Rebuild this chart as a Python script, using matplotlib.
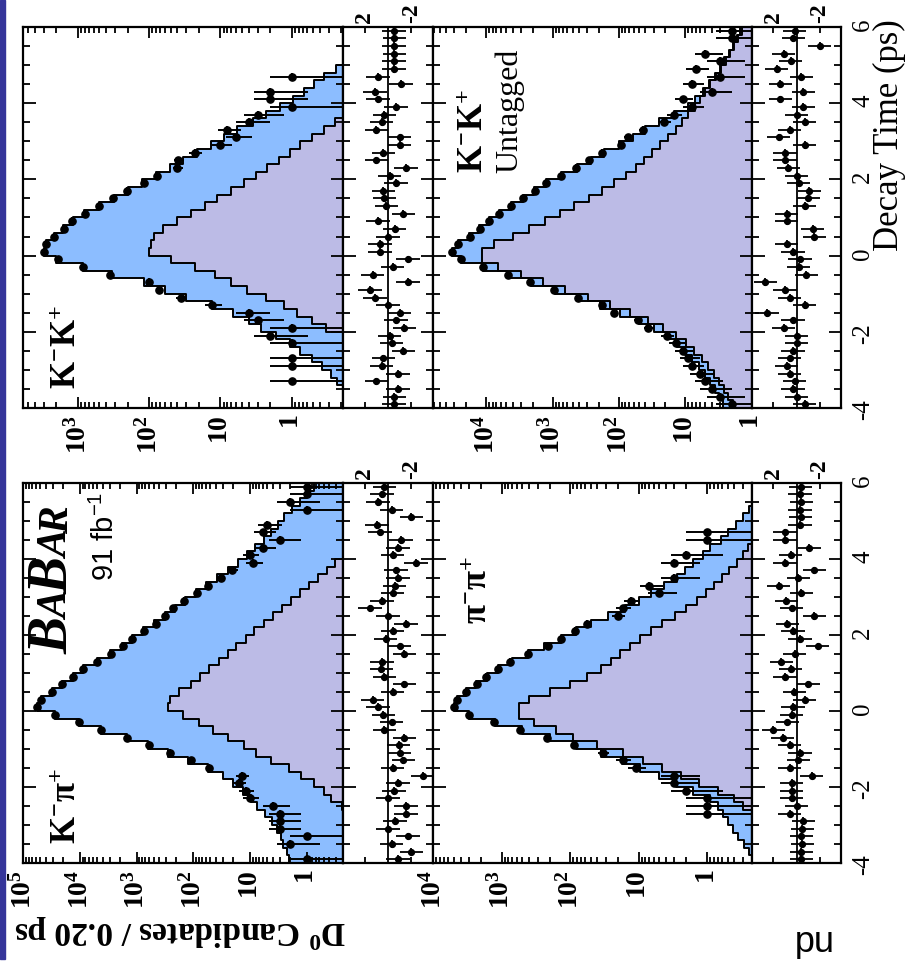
import numpy as np
import matplotlib.pyplot as plt
from matplotlib.patches import Rectangle
from matplotlib.ticker import FixedLocator, FixedFormatter, LogLocator, NullFormatter, MultipleLocator

plt.rcParams['font.family'] = ['Liberation Serif', 'DejaVu Serif']
plt.rcParams['font.weight'] = 'bold'
plt.rcParams['mathtext.fontset'] = 'stix'
plt.rcParams['mathtext.default'] = 'regular'
plt.rcParams['axes.unicode_minus'] = False

W, H = 906, 972
BLUE = '#8cbdff'
LAV = '#bcbbe6'
STRIP = '#35359a'

# decay time bins of 0.20 ps, -4 .. 6 ps
t_edges = np.linspace(-4, 6, 51)
t_mid = t_edges[:-1] + 0.1

# K-K+ tagged: total fit, background part, data, normalised residuals
kk_fit = [0.11, 0.14, 0.18, 0.23, 0.28, 0.38, 0.52, 0.76, 1.07, 1.66,
          2.7, 4.0, 6.6, 13, 30, 60, 120, 330, 850, 2000,
          3000, 2800, 2200, 1600, 1170, 830, 510, 316, 200, 126,
          79, 51, 33, 21, 13.5, 8.9, 5.8, 3.5, 2.3, 1.45,
          0.95, 0.66, 0.48, 0.35, 0.24, 0.17, 0.12, 0.09, 0.065, 0.048]
kk_bkg = [0.01, 0.015, 0.02, 0.025, 0.03, 0.04, 0.05, 0.08, 0.12, 0.18,
          0.33, 0.52, 0.83, 1.3, 2.3, 4.2, 7.2, 12, 23, 50,
          100, 95, 85, 63, 40, 26, 16.6, 11, 7.1, 4.6,
          3.2, 2.2, 1.5, 1.05, 0.76, 0.52, 0.35, 0.25, 0.17, 0.15,
          0.13, 0.12, 0.1, 0.09, 0.08, 0.07, 0.06, 0.05, 0.04, 0.03]
kk_data = [0, 0, 0, 1, 0, 1, 1, 0, 1, 2,
           1, 3, 4, 13, 36, 72, 102, 354, 838, 1924,
           3038, 2837, 2200, 1577, 1199, 793, 513, 321, 206, 118,
           78, 40, 39, 23, 10, 6, 8, 4, 3, 1,
           2, 2, 0, 1, 0, 0, 0, 0, 0, 0]
kk_res = [-0.5, -0.55, -0.85, 1.0, -0.85, 0.55, 0.4, -1.3, -0.3, -0.15,
          -1.4, -0.7, -1.0, 0.0, 1.1, 1.55, -1.7, 1.3, -0.4, -1.7,
          0.7, 0.7, 0.0, -0.57, 0.85, -1.3, 0.15, 0.3, 0.4, -0.7,
          -0.15, -1.55, 1.0, 0.4, -1.0, -1.0, 1.0, 0.55, 0.3, -0.7,
          0.85, 1.1, -1.1, 0.85, -0.5, -0.5, -0.55, -0.5, -0.55, -0.5]

# K-K+ untagged
kku_fit = [2.7, 3.1, 3.6, 4.3, 5.1, 6.3, 7.9, 10.2, 13.5, 19,
           30, 50, 95, 190, 400, 910, 2090, 4800, 11200, 24000,
           33000, 26300, 17800, 12600, 9100, 6300, 4200, 2800, 1900, 1260,
           740, 430, 263, 166, 100, 62, 40, 25, 15, 9.3,
           7.1, 5.5, 4.4, 3.6, 3.0, 2.6, 2.2, 1.95, 1.7, 1.5]
kku_sig = [1.95, 2.25, 2.6, 3.1, 3.7, 4.6, 5.7, 7.4, 9.8, 14,
           22, 36, 69, 138, 290, 660, 1400, 3000, 6600, 11700,
           11700, 7600, 4000, 2240, 1320, 760, 480, 280, 178, 120,
           79, 56, 42, 32, 24, 18, 14, 11.2, 9.1, 7.2,
           6.0, 5.0, 4.2, 3.5, 2.9, 2.45, 2.15, 1.86, 1.62, 1.41]
kku_data = [2, 3, 4, 5, 6, 8, 9, 11, 14, 19,
            36, 52, 120, 180, 411, 940, 2213, 4741, 11179, 23954,
            33054, 26438, 17593, 12443, 9181, 6367, 4155, 2747, 1852, 1253,
            740, 444, 279, 179, 93, 74, 44, 21, 15, 8,
            11, 4, 8, 3, 7, 3, 5, 0, 2, 2]
kku_res = [-0.7, 0.0, 0.3, 0.15, 0.6, 0.85, 0.57, 0.3, 0.0, 0.0,
           1.1, 0.3, 2.55, -0.7, 0.57, 1.0, 2.7, -0.85, -0.2, -0.3,
           0.3, 0.85, -1.55, -1.4, 0.85, 0.85, -0.7, -1.0, -1.1, -0.2,
           0.0, 0.7, 1.0, 1.0, -0.7, 1.55, 0.57, -0.7, 0.0, -0.57,
           1.4, -0.57, 1.4, -0.4, 1.7, 0.5, 1.1, -2.0, 0.28, 0.15]

# K-pi+
kpi_fit = [2.1, 2.2, 2.6, 2.9, 3.4, 4.1, 5.5, 7.6, 9.8, 13.5,
           20, 30, 55, 126, 280, 630, 1510, 4200, 10500, 27500,
           57500, 47900, 31600, 20900, 13500, 8700, 5000, 2900, 1780, 1200,
           760, 500, 316, 209, 138, 91, 59, 38, 25, 16.6,
           11.5, 8.3, 5.8, 4.2, 3.2, 2.5, 1.8, 1.3, 1.0, 0.76]
kpi_bkg = [0.03, 0.04, 0.05, 0.06, 0.08, 0.11, 0.16, 0.24, 0.37, 0.5,
           0.76, 1.26, 2.1, 4.2, 7.9, 13, 25, 45, 79, 151,
           275, 263, 178, 112, 76, 52, 35, 25, 17.4, 12,
           8.5, 5.8, 4.0, 2.75, 1.9, 1.32, 0.91, 0.63, 0.44, 0.32,
           0.22, 0.16, 0.12, 0.09, 0.07, 0.05, 0.04, 0.03, 0.02, 0.015]
kpi_data = [1, 0, 2, 1, 3, 3, 3, 4, 10, 12,
            16, 14, 52, 111, 263, 607, 1456, 4219, 10469, 27566,
            57704, 48185, 31529, 20698, 13535, 8753, 5035, 2825, 1738, 1207,
            749, 465, 316, 231, 144, 87, 55, 33, 21, 9,
            10, 6, 3, 6, 5, 0, 1, 2, 1, 1]
kpi_res = [-0.85, -2.0, -0.3, -1.7, 0.0, -0.6, -1.55, -1.55, 0.0, -0.5,
           -0.85, -3.0, -0.4, -1.3, -1.0, -0.9, -1.4, 0.3, -0.3, 0.4,
           0.85, 1.3, -0.4, -1.4, 0.3, 0.57, 0.5, -1.4, -1.0, 0.2,
           -0.4, -1.55, 0.0, 1.55, 0.5, -0.4, -0.57, -0.85, -0.7, -2.4,
           -0.4, -0.85, -1.1, 0.7, 0.95, -2.0, -0.3, 0.85, 0.5, 0.3]

# pi-pi+
pp_fit = [0.2, 0.24, 0.29, 0.35, 0.42, 0.5, 0.58, 0.68, 0.89, 1.58,
          2.8, 5.0, 9.5, 17.4, 35, 83, 200, 500, 1260, 3000,
          5000, 4570, 3310, 2340, 1660, 1120, 710, 417, 240, 138,
          83, 50, 28, 15.8, 10, 6.6, 4.2, 2.75, 2.1, 1.58,
          1.15, 0.89, 0.63, 0.5, 0.38, 0.3, 0.24, 0.19, 0.16, 0.13]
pp_bkg = [0.05, 0.07, 0.09, 0.11, 0.13, 0.15, 0.2, 0.3, 0.4, 0.7,
          1.3, 2.4, 4.5, 8.5, 17, 40, 90, 162, 340, 562,
          562, 398, 200, 100, 56, 35, 25, 18.6, 13.5, 9.5,
          6.6, 4.5, 2.9, 2.0, 1.41, 1.05, 0.79, 0.6, 0.47, 0.37,
          0.3, 0.25, 0.2, 0.16, 0.13, 0.1, 0.08, 0.06, 0.05, 0.04]
pp_data = [0, 0, 0, 0, 0, 0, 1, 1, 1, 2,
           3, 3, 11, 17, 33, 88, 217, 541, 1288, 3022,
           5021, 4523, 3322, 2292, 1701, 1137, 745, 420, 211, 134,
           86, 56, 20, 17, 13, 5, 7, 3, 0, 3,
           2, 0, 1, 1, 0, 0, 0, 0, 0, 0]
pp_res = [-0.4, -0.4, -0.5, -0.4, -0.5, -0.6, 0.57, 0.0, 0.4, 0.4,
          0.4, -1.3, 0.6, -0.15, -0.3, 0.57, 1.2, 2.0, 0.8, 0.4,
          0.3, -0.7, 0.2, -1.0, 1.0, 0.5, 1.3, 0.15, -1.85, -0.3,
          0.3, 0.8, -1.55, 0.4, 0.9, -0.4, 1.55, -0.15, -1.55, 1.0,
          0.5, -1.1, 1.0, 1.0, -0.3, -0.35, -0.3, -0.4, -0.3, -0.35]

fig = plt.figure(figsize=(W / 100, H / 100), dpi=100)


def box(x0, y0, x1, y1):
    # pixel box (top-left origin) -> figure fraction
    return [x0 / W, 1 - y1 / H, (x1 - x0) / W, (y1 - y0) / H]


def stairs(vals):
    return np.repeat(vals, 2), np.repeat(t_edges, 2)[1:-1]


def time_axis(ax):
    ax.set_ylim(-4, 6)
    ax.yaxis.set_major_locator(MultipleLocator(2))
    ax.yaxis.set_minor_locator(MultipleLocator(0.5))
    ax.tick_params(axis='y', which='both', direction='in', left=True, right=True,
                   labelleft=False, width=1.3)
    ax.tick_params(axis='y', which='major', length=9)
    ax.tick_params(axis='y', which='minor', length=5)
    for s in ax.spines.values():
        s.set_linewidth(1.6)


def main_panel(rect, fit, comp, counts, lo, hi, decades):
    ax = fig.add_axes(rect)
    ax.set_xscale('log')
    for vals, col in ((fit, BLUE), (comp, LAV)):
        xs, ys = stairs(vals)
        ax.fill_betweenx(ys, xs, 1e-4, color=col, lw=0)
    for vals in (fit, comp):
        xs, ys = stairs(vals)
        ax.plot(xs, ys, color='k', lw=1.4)
    n = np.asarray(counts, float)
    m = n > 0
    err = np.sqrt(n[m])
    ax.errorbar(n[m], t_mid[m], xerr=[np.minimum(err, n[m] * 0.999), err], yerr=0.1,
                fmt='o', color='k', ms=5.2, elinewidth=1.4, capsize=0)
    ax.set_xlim(hi, lo)
    labels = []
    for d in decades:
        p = int(round(np.log10(d)))
        labels.append('$1$' if p == 0 else '$10$' if p == 1 else '$10^{%d}$' % p)
    ax.xaxis.set_major_locator(FixedLocator(decades))
    ax.xaxis.set_major_formatter(FixedFormatter(labels))
    ax.xaxis.set_minor_locator(LogLocator(base=10, subs=np.arange(2, 10), numticks=30))
    ax.xaxis.set_minor_formatter(NullFormatter())
    ax.tick_params(axis='x', which='both', direction='in', top=True, bottom=True, width=1.3)
    ax.tick_params(axis='x', which='major', length=8, labelsize=20, labelrotation=90, pad=5)
    ax.tick_params(axis='x', which='minor', length=4)
    time_axis(ax)
    return ax


def resid_panel(rect, res, right_labels):
    ax = fig.add_axes(rect)
    ax.axvline(0, color='k', lw=1.3)
    ax.errorbar(res, t_mid, xerr=1, yerr=0.1, fmt='o', color='k', ms=4.2,
                elinewidth=1.3, capsize=0)
    ax.set_xlim(3.85, -3.85)
    ax.set_xticks([2, -2])
    ax.tick_params(axis='x', direction='in', top=True, bottom=True, labeltop=True,
                   labelbottom=False, length=4, width=1.3, labelsize=17,
                   labelrotation=90, pad=3)
    time_axis(ax)
    if right_labels:
        ax.tick_params(axis='y', labelright=True, labelsize=18, labelrotation=90, pad=8)
        for lab in ax.get_yticklabels():
            lab.set_fontweight('normal')
    return ax


def label(x, y, s, rot=90, **kw):
    return fig.text(x / W, 1 - y / H, s, rotation=rot, rotation_mode='anchor',
                    ha='left', va='baseline', **kw)


# top row (K-K+ tagged, untagged), bottom row (K-pi+, pi-pi+)
main_panel(box(23, 27, 343, 408), kk_fit, kk_bkg, kk_data, 0.19, 5900, [1, 10, 100, 1000])
resid_panel(box(343, 27, 433, 408), kk_res, False)
main_panel(box(433, 27, 752, 408), kku_fit, kku_sig, kku_data, 0.995, 63000,
           [1, 10, 100, 1000, 10000])
resid_panel(box(752, 27, 841, 408), kku_res, True)
main_panel(box(23, 483, 343, 863), kpi_fit, kpi_bkg, kpi_data, 0.23, 1.01e5,
           [1, 10, 100, 1000, 1e4, 1e5])
resid_panel(box(343, 483, 433, 863), kpi_res, False)
main_panel(box(433, 483, 752, 863), pp_fit, pp_bkg, pp_data, 0.22, 1.01e4,
           [1, 10, 100, 1000, 1e4])
resid_panel(box(752, 483, 841, 863), pp_res, True)

# panel labels
label(76, 389, 'K$^{-}$K$^{+}$', size=25)
label(483, 173, 'K$^{-}$K$^{+}$', size=25)
label(517, 173, 'Untagged', size=23, weight='normal')
label(76, 844, r'K$^{-}\pi^{+}$', size=25)
label(487, 624, r'$\pi^{-}\pi^{+}$', size=25)
label(114, 581, '91 fb$^{-1}$', size=21, weight='normal', family='Liberation Sans')

rend = fig.canvas.get_renderer()
y = 654
for s, fs in (('B', 40), ('A', 30), ('B', 40), ('A', 30), ('R', 30)):
    t = label(68, y, s, size=fs, style='italic')
    y -= t.get_window_extent(rend).height * 0.93

label(898, 251, 'Decay Time (ps)', size=25, weight='normal')
label(346, 921, 'D$^{0}$ Candidates / 0.20 ps', rot=180, size=24)
label(830, 930, 'nd', rot=180, size=26, weight='normal', family='Liberation Sans')

fig.patches.append(Rectangle((0, 1 - 959 / H), 5 / W, 959 / H, transform=fig.transFigure,
                             color=STRIP, zorder=5))

fig.savefig('out.png', dpi=100)
